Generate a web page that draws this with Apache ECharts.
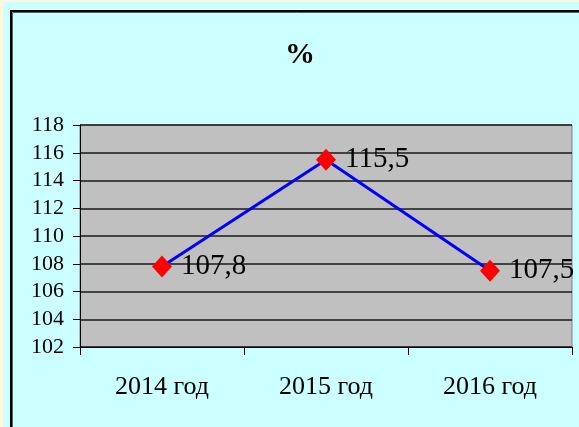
<!DOCTYPE html>
<html>
<head>
<meta charset="utf-8">
<script src="https://cdn.jsdelivr.net/npm/echarts@6/dist/echarts.min.js"></script>
<style>
    html, body { margin: 0; padding: 0; background: #FFF7DC; }
    #main {
        position: absolute; left: 3px; top: 2px;
        width: 576px; height: 425px;
        background: #CCFFFF;
    }
</style>
</head>
<body>
<div id="main"></div>
<script>
var categories = ['2014 год', '2015 год', '2016 год'];
var values = [107.8, 115.5, 107.5];
var yMin = 102;
var yMax = 118;
var yStep = 2;

(function () {
    var chart = echarts.init(document.getElementById('main'));
    var serif = '"Liberation Serif", "DejaVu Serif", serif';
    var option = {
        animation: false,
        title: {
            text: '%',
            left: 277,
            top: 33,
            textStyle: {
                color: '#000',
                fontFamily: serif,
                fontSize: 30,
                fontWeight: 'bold'
            }
        },
        // рамка диаграммы
        graphic: [
            {
                type: 'rect',
                shape: { x: 8, y: 9, width: 700, height: 600 },
                style: { fill: null, stroke: '#000', lineWidth: 2 }
            },
            {
                type: 'rect',
                shape: { x: 9.5, y: 10.5, width: 700, height: 600 },
                style: { fill: null, stroke: '#4a6a6a', lineWidth: 1 }
            }
        ],
        grid: {
            left: 77,
            top: 123,
            right: 7,
            bottom: 80,
            show: true,
            backgroundColor: '#C0C0C0',
            borderColor: '#808080',
            borderWidth: 1
        },
        xAxis: {
            type: 'category',
            data: categories,
            boundaryGap: true,
            axisLine: { lineStyle: { color: '#000', width: 1 } },
            axisTick: { show: true, length: 8, lineStyle: { color: '#000' } },
            axisLabel: {
                color: '#000',
                fontFamily: serif,
                fontSize: 26,
                margin: 27
            },
            splitLine: { show: false }
        },
        yAxis: {
            type: 'value',
            min: yMin,
            max: yMax,
            interval: yStep,
            axisLine: { show: true, lineStyle: { color: '#000', width: 1 } },
            axisTick: { show: true, length: 7, lineStyle: { color: '#000' } },
            axisLabel: {
                color: '#000',
                fontFamily: serif,
                fontSize: 22,
                margin: 16
            },
            splitLine: { show: true, lineStyle: { color: '#1a1a1a', width: 1.6 } }
        },
        series: [
            {
                type: 'line',
                data: values,
                symbol: 'diamond',
                symbolSize: [20, 22],
                itemStyle: { color: '#FF0000' },
                lineStyle: { color: '#0000FF', width: 3 },
                label: {
                    show: true,
                    position: 'right',
                    distance: 9,
                    color: '#000',
                    fontFamily: serif,
                    fontSize: 29,
                    formatter: function (p) {
                        return p.value.toFixed(1).replace('.', ',');
                    }
                }
            }
        ]
    };
    chart.setOption(option);
})();
</script>
</body>
</html>
